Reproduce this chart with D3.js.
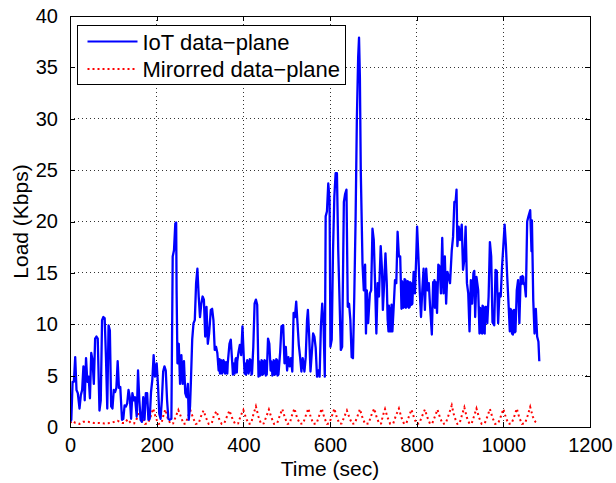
<!DOCTYPE html>
<html>
<head>
<meta charset="utf-8">
<script src="https://cdn.jsdelivr.net/npm/d3@7"></script>
<style>
  body { margin: 0; background: #fff; }
  svg text { font-family: "Liberation Sans", Arial, Helvetica, sans-serif; fill: #000; }
</style>
</head>
<body>
<div id="chart"></div>
<script>
// series: [time (sec), load (Kbps)]
var iotLoad = [
  [0,0.5],[3,0.7],[6,4.4],[9,4.4],[12,6.8],[15,3.6],[18,3.3],[22,1.8],[25,3.1],[28,3.6],[31,5.9],[34,2.6],[37,6.7],[40,4.4],[43,4.9],[46,2.8],[49,7.2],[52,6.5],[55,4.2],[58,8.6],[61,8.8],[64,8.6],[68,1.6],[71,2.6],[74,10.4],[77,10.7],[80,10.6],[83,6.8],[86,1.8],[89,9.9],[92,9.4],[95,2.0],[98,1.8],
  [101,3.6],[104,3.4],[107,3.8],[110,6.4],[113,3.8],[116,3.9],[120,0.7],[123,0.8],[126,2.1],[129,2.0],[132,2.3],[135,3.6],[138,2.9],[141,0.8],[144,3.3],[147,2.6],[150,2.9],[154,1.0],[157,5.5],[160,2.6],[163,0.7],[166,0.5],[169,2.9],[172,0.7],[175,3.3],[178,3.3],[181,0.7],[184,0.8],[187,3.4],[190,4.6],[193,7.0],[196,4.9],
  [200,6.2],[203,4.1],[206,1.3],[209,0.8],[212,2.6],[215,5.4],[218,5.9],[221,5.5],[224,2.6],[227,0.8],[230,0.7],[234,0.8],[237,16.6],[240,17.2],[243,19.8],[245,19.9],[246,13.3],[248,6.2],[251,8.1],[254,4.2],[257,7.0],[260,4.2],[263,6.4],[266,3.3],[269,2.9],[272,4.2],[274,0.7],[277,2.0],[279,4.4],[282,8.5],[285,10.1],[288,10.4],[291,14.0],[294,15.4],[297,12.7],
  [300,10.7],[303,12.0],[306,12.7],[309,12.4],[312,8.8],[315,11.7],[318,8.1],[321,9.1],[325,11.4],[328,11.5],[331,10.4],[334,7.5],[337,7.8],[340,7.2],[343,5.5],[345,6.6],[346,5.2],[348,6.4],[349,6.5],[351,5.2],[352,5.4],[354,6.5],[355,6.4],[357,5.3],[358,5.2],[360,6.3],[361,5.9],[363,5.2],[364,6.2],[368,8.1],[371,8.5],[374,6.5],[376,5.1],[377,6.2],[379,5.4],[380,5.2],[382,6.6],[383,6.7],[385,5.3],[386,6.4],[389,7.3],[392,8.0],[395,7.0],[398,9.8],
  [401,6.8],[403,5.2],[404,6.2],[406,5.1],[407,5.4],[409,6.5],[410,6.4],[412,5.2],[413,5.4],[415,6.6],[417,6.5],[419,5.1],[420,5.2],[423,7.8],[426,12.0],[429,12.4],[432,11.9],[435,4.9],[436,6.4],[438,6.2],[439,5.0],[441,5.1],[442,6.5],[444,6.4],[445,5.1],[447,5.2],[449,6.5],[451,6.4],[452,5.0],[454,5.1],[457,8.6],[460,8.1],[463,5.5],[464,6.4],[466,6.2],[467,5.0],[469,5.1],[470,6.5],[472,6.4],[473,5.1],[475,5.2],[476,6.6],[478,6.5],[479,5.0],[481,5.1],[485,7.3],[488,9.8],[492,9.9],[495,6.2],[498,7.8],
  [501,5.5],[504,6.8],[507,5.9],[510,6.7],[513,5.4],[516,11.1],[519,10.7],[522,12.2],[525,10.1],[528,8.0],[531,6.8],[534,5.4],[537,6.7],[541,5.4],[544,6.8],[547,10.4],[549,11.4],[552,8.8],[555,5.4],[558,7.2],[561,9.1],[564,8.8],[567,7.7],[570,4.9],[573,5.5],[576,4.9],[579,9.8],[582,12.0],[585,10.1],[588,4.9],[590,20.5],[593,21.0],[596,23.7],[599,22.1],
  [601,7.8],[604,8.5],[607,17.2],[610,22.4],[613,24.7],[616,24.7],[619,17.2],[622,12.4],[625,7.5],[628,7.8],[632,21.9],[635,22.7],[638,23.1],[641,11.7],[644,12.0],[647,10.4],[650,6.8],[653,6.7],[656,12.7],[659,20.0],[662,30.0],[665,36.0],[667,37.9],[669,34.0],[671,25.0],[675,15.9],[678,13.3],[681,15.8],[683,9.1],[685,13.3],[688,10.1],[692,13.0],[695,13.3],[698,19.3],
  [701,18.2],[704,14.0],[707,9.1],[710,14.0],[713,12.7],[717,17.6],[720,15.3],[722,11.4],[725,14.0],[728,16.9],[731,14.0],[733,10.5],[735,9.3],[736,11.8],[738,9.3],[739,11.5],[741,9.3],[742,11.9],[744,9.3],[747,11.7],[750,14.3],[753,14.0],[756,19.0],[759,16.6],[762,16.6],[765,11.5],[766,14.2],[768,14.0],[769,11.6],[771,11.7],[772,14.4],[774,14.3],[775,11.6],[777,11.7],[779,14.2],[781,14.1],[782,11.6],[784,11.7],[785,14.1],[787,14.0],[788,11.9],[790,12.0],[793,15.1],[796,13.0],[799,16.6],
  [801,19.5],[804,16.6],[807,13.3],[810,10.7],[813,13.3],[816,15.4],[819,11.4],[822,15.4],[825,13.3],[828,14.0],[831,11.7],[835,9.0],[838,14.1],[839,11.8],[841,14.3],[842,11.6],[844,14.1],[847,11.1],[850,15.8],[853,15.6],[856,13.0],[859,18.4],[862,13.0],[865,16.6],[868,12.0],[871,15.1],[874,14.6],[877,14.0],[881,17.2],[884,18.5],[887,21.9],[890,22.0],[892,23.1],[894,17.6],[897,19.5],
  [900,18.2],[904,19.7],[907,15.3],[910,16.3],[913,19.5],[916,14.0],[919,13.0],[922,9.3],[925,14.3],[928,12.0],[931,15.0],[933,15.2],[935,10.7],[938,14.6],[942,13.3],[945,9.1],[946,11.6],[948,11.5],[949,9.2],[951,9.1],[952,11.8],[954,11.7],[955,9.2],[957,9.1],[958,11.6],[960,11.7],[963,10.1],[966,12.7],[969,18.0],[972,16.6],[975,10.2],[979,9.9],[982,15.3],[985,15.2],[988,10.1],[991,13.0],[994,12.7],[997,15.6],
  [1000,17.6],[1003,19.7],[1006,17.6],[1009,14.6],[1012,12.0],[1015,9.3],[1016,11.5],[1018,11.4],[1020,9.1],[1022,9.0],[1023,11.3],[1025,11.4],[1026,9.2],[1028,9.3],[1031,13.3],[1034,14.3],[1037,10.1],[1040,14.6],[1041,13.9],[1043,14.0],[1044,14.7],[1046,14.6],[1047,13.9],[1049,14.0],[1052,12.7],[1055,20.0],[1058,20.5],[1062,21.1],[1065,17.1],[1066,20.1],[1069,12.4],[1072,9.1],[1075,11.5],[1078,8.8],[1081,8.3],[1083,6.4]
];

var mirroredLoad = [
  [0,0.4],[6,0.6],[12,0.4],[22,0.3],[30,0.5],[42,0.5],[55,0.4],[68,0.4],[80,0.35],[95,0.4],[110,0.6],[120,0.4],[127,0.4],[133,0.75],[140,0.4],[148,0.35],[154,0.8],[161,1.65],[167,0.8],[173,0.3],
  [180,0.35],[186,1.0],[192,1.8],[198,0.9],[204,0.3],[211,0.35],[216,1.2],[220,1.7],[226,0.8],[232,0.3],[238,0.35],[244,1.0],[250,1.65],[256,1.0],[262,0.3],[267,0.35],[273,1.1],[278,1.6],[284,0.9],[290,0.3],
  [297,0.35],[302,1.0],[308,1.6],[314,0.9],[320,0.3],[327,0.35],[332,1.1],[338,1.55],[344,0.8],[350,0.3],[356,0.35],[362,1.0],[368,1.6],[374,0.9],[381,0.3],[388,0.35],[394,1.1],[400,1.65],[406,0.9],[412,0.3],
  [418,0.35],[423,1.2],[429,2.0],[435,1.0],[441,0.3],[447,0.35],[453,1.0],[459,1.7],[465,0.9],[471,0.3],[478,0.35],[484,1.1],[490,1.75],[496,0.9],[502,0.3],[507,0.35],[512,1.1],[518,1.8],[524,0.9],[531,0.3],
  [538,0.35],[544,1.1],[550,1.8],[556,0.9],[562,0.3],[569,0.35],[575,1.1],[581,1.8],[587,0.9],[593,0.3],[598,0.35],[604,1.0],[610,1.8],[616,0.9],[622,0.3],[627,0.35],[633,1.0],[639,1.6],[645,0.9],[651,0.3],
  [657,0.35],[663,1.0],[669,1.75],[675,0.9],[681,0.3],[689,0.35],[695,1.1],[702,1.8],[708,0.9],[714,0.3],[718,0.35],[722,1.1],[727,1.75],[733,0.9],[739,0.3],[746,0.35],[752,1.1],[759,1.8],[765,0.9],[771,0.3],
  [776,0.35],[782,1.0],[788,1.7],[794,0.9],[800,0.3],[806,0.35],[812,1.0],[819,1.7],[825,0.9],[831,0.3],[836,0.35],[842,1.0],[848,1.7],[854,0.9],[860,0.3],[867,0.35],[874,1.2],[881,2.1],[887,1.0],[894,0.3],
  [899,0.35],[904,1.1],[910,1.9],[916,0.9],[922,0.3],[927,0.35],[932,1.0],[938,1.8],[944,0.9],[950,0.3],[957,0.35],[963,1.0],[969,1.75],[975,0.9],[981,0.3],[988,0.35],[994,1.0],[1000,1.75],[1006,0.9],[1012,0.3],
  [1019,0.35],[1025,1.0],[1031,1.8],[1037,0.9],[1043,0.3],[1050,0.35],[1056,1.1],[1062,1.95],[1068,1.0],[1074,0.5],[1081,0.3]
];

var xTicks = [0, 200, 400, 600, 800, 1000, 1200];
var yTicks = [0, 5, 10, 15, 20, 25, 30, 35, 40];
var seriesNames = ["IoT data\u2212plane", "Mirorred data\u2212plane"];
var seriesColors = ["#0000ff", "#ff0000"];

var width = 616, height = 483;
var margin = {top: 16, right: 26, bottom: 56, left: 70};
var plotW = width - margin.left - margin.right,
    plotH = height - margin.top - margin.bottom;

var svg = d3.select("#chart").append("svg")
    .attr("width", width)
    .attr("height", height);

var g = svg.append("g")
    .attr("transform", "translate(" + margin.left + "," + margin.top + ")");

var x = d3.scaleLinear().domain([0, 1200]).range([0, plotW]);
var y = d3.scaleLinear().domain([0, 40]).range([plotH, 0]);

// dotted grid
g.append("g").selectAll("line")
    .data(xTicks.slice(1, -1))
    .enter().append("line")
      .attr("x1", d => x(d)).attr("x2", d => x(d))
      .attr("y1", 0).attr("y2", plotH)
      .attr("stroke", "#333").attr("stroke-width", 1)
      .attr("stroke-dasharray", "1,3")
      .attr("shape-rendering", "crispEdges");

g.append("g").selectAll("line")
    .data(yTicks.slice(1, -1))
    .enter().append("line")
      .attr("y1", d => y(d)).attr("y2", d => y(d))
      .attr("x1", 0).attr("x2", plotW)
      .attr("stroke", "#333").attr("stroke-width", 1)
      .attr("stroke-dasharray", "1,3")
      .attr("shape-rendering", "crispEdges");

g.append("clipPath").attr("id", "clip")
  .append("rect").attr("width", plotW).attr("height", plotH);

var line = d3.line()
    .x(d => x(d[0]))
    .y(d => y(d[1]));

g.append("path")
    .datum(mirroredLoad)
    .attr("clip-path", "url(#clip)")
    .attr("fill", "none")
    .attr("stroke", seriesColors[1])
    .attr("stroke-width", 2)
    .attr("stroke-dasharray", "2,3")
    .attr("d", line);

g.append("path")
    .datum(iotLoad)
    .attr("clip-path", "url(#clip)")
    .attr("fill", "none")
    .attr("stroke", seriesColors[0])
    .attr("stroke-width", 2.3)
    .attr("stroke-linejoin", "round")
    .attr("d", line);

// axes, ticks pointing inward on all four sides
var fontSize = "20px";

g.append("g")
    .attr("transform", "translate(0," + plotH + ")")
    .call(d3.axisBottom(x).tickValues(xTicks).tickFormat(d3.format("d"))
        .tickSizeInner(-5).tickSizeOuter(0).tickPadding(11));
g.append("g")
    .call(d3.axisLeft(y).tickValues(yTicks).tickSizeInner(-5).tickSizeOuter(0).tickPadding(12));
g.append("g")
    .call(d3.axisTop(x).tickValues(xTicks).tickSizeInner(-5).tickSizeOuter(0).tickFormat(""));
g.append("g")
    .attr("transform", "translate(" + plotW + ",0)")
    .call(d3.axisRight(y).tickValues(yTicks).tickSizeInner(-5).tickSizeOuter(0).tickFormat(""));

g.selectAll(".domain").remove();
g.selectAll(".tick line").attr("stroke", "#000").attr("shape-rendering", "crispEdges");
g.selectAll(".tick text").style("font-size", fontSize).style("font-family", null);

g.append("rect")
    .attr("width", plotW).attr("height", plotH)
    .attr("fill", "none").attr("stroke", "#000").attr("stroke-width", 1)
    .attr("shape-rendering", "crispEdges");

// axis labels
svg.append("text")
    .attr("x", margin.left + plotW / 2)
    .attr("y", 476)
    .attr("text-anchor", "middle")
    .style("font-size", "21px")
    .text("Time (sec)");

svg.append("text")
    .attr("transform", "translate(28," + (margin.top + plotH / 2) + ") rotate(-90)")
    .attr("text-anchor", "middle")
    .style("font-size", "21px")
    .text("Load (Kbps)");

// legend
var legend = svg.append("g").attr("transform", "translate(77.5,25.5)");
legend.append("rect")
    .attr("width", 268).attr("height", 59)
    .attr("fill", "#fff").attr("stroke", "#000").attr("stroke-width", 1);

var items = legend.selectAll(".item")
    .data(seriesNames)
    .enter().append("g")
      .attr("transform", (d, i) => "translate(0," + (16 + i * 27.6) + ")");

items.append("line")
    .attr("x1", 10).attr("x2", 60)
    .attr("stroke", (d, i) => seriesColors[i])
    .attr("stroke-width", 2)
    .attr("stroke-dasharray", (d, i) => i === 1 ? "2,3" : null);

items.append("text")
    .attr("x", 65).attr("y", 8)
    .style("font-size", "22px")
    .text(d => d);
</script>
</body>
</html>
